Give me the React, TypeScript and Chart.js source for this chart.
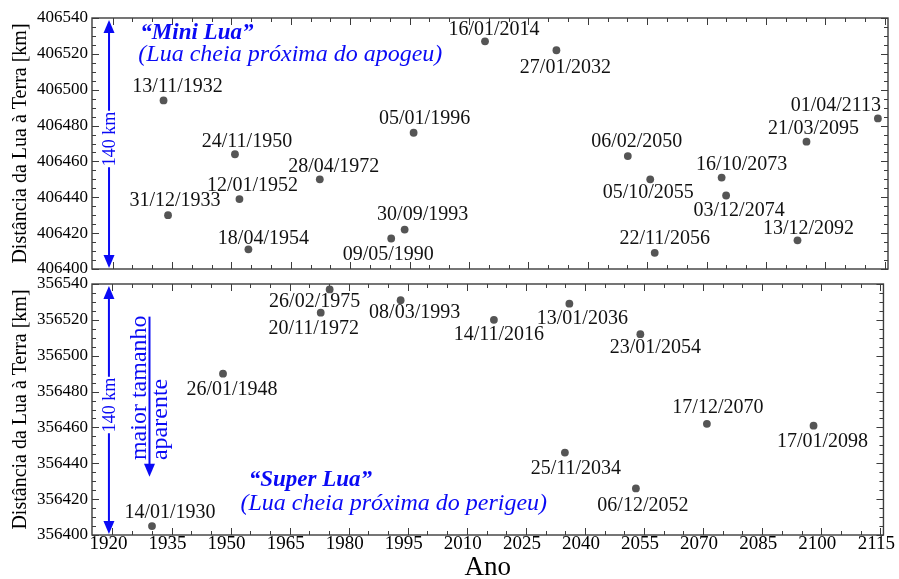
import React, { useEffect, useRef } from 'react';
import { Chart, registerables } from 'chart.js';

Chart.register(...registerables);

// ---------------- data ----------------
const miniDates = [
  '13/11/1932', '31/12/1933', '24/11/1950', '12/01/1952', '18/04/1954', '28/04/1972',
  '09/05/1990', '30/09/1993', '05/01/1996', '16/01/2014', '27/01/2032', '06/02/2050',
  '05/10/2055', '22/11/2056', '16/10/2073', '03/12/2074', '13/12/2092', '21/03/2095', '01/04/2113',
];
const miniDist = [
  406494, 406430, 406464, 406439, 406411, 406450,
  406417, 406422, 406476, 406527, 406522, 406463,
  406450, 406409, 406451, 406441, 406416, 406471, 406484,
];
const superDates = [
  '14/01/1930', '26/01/1948', '20/11/1972', '26/02/1975', '08/03/1993', '14/11/2016',
  '25/11/2034', '13/01/2036', '06/12/2052', '23/01/2054', '17/12/2070', '17/01/2098',
];
const superDist = [
  356405, 356490, 356524, 356537, 356531, 356520,
  356446, 356529, 356426, 356512, 356462, 356461,
];
const xTicks = [1920, 1935, 1950, 1965, 1980, 1995, 2010, 2025, 2040, 2055, 2070, 2085, 2100, 2115];
const miniYTicks = [406400, 406420, 406440, 406460, 406480, 406500, 406520, 406540];
const superYTicks = [356400, 356420, 356440, 356460, 356480, 356500, 356520, 356540];

const yTitle = 'Distância da Lua à Terra [km]';
const xTitle = 'Ano';
const miniTitle = '“Mini Lua”';
const miniSub = '(Lua cheia próxima do apogeu)';
const superTitle = '“Super Lua”';
const superSub = '(Lua cheia próxima do perigeu)';
const rangeText = '140 km';
const sizeText1 = 'maior tamanho';
const sizeText2 = 'aparente';

// ---------------- placement (label offsets in px, from dot centre) ----------------
const miniLabelOffsets = [
  [14, -14], [7, -14], [12, -13], [13, -13], [15, -11], [14, -13],
  [-3, 16], [18, -15], [11, -14], [9, -12], [9, 17], [9, -14],
  [-2, 13], [10, -14], [20, -13], [13, 15], [11, -12], [7, -13], [-42, -13],
];
const superLabelOffsets = [
  [18, -13], [9, 16], [-7, 16], [-15, 12], [14, 13], [5, 15],
  [11, 16], [13, 15], [7, 17], [15, 14], [11, -16], [9, 16],
];

const SERIF = '"Liberation Serif", "Times New Roman", serif';
const BLUE = '#0a0af5';
const X_MIN = 1914.8;
const X_MAX = 2115.8;

function dateToYear(s: string): number {
  const [d, m, y] = s.split('/').map(Number);
  const start = Date.UTC(y, 0, 1);
  const end = Date.UTC(y + 1, 0, 1);
  return y + (Date.UTC(y, m - 1, d) + 43200000 - start) / (end - start);
}

function drawHead(ctx: CanvasRenderingContext2D, x: number, tipY: number, dir: number) {
  // dir = -1 : pointing up ; +1 : pointing down
  ctx.beginPath();
  ctx.moveTo(x, tipY);
  ctx.lineTo(x - 5.5, tipY - dir * 13);
  ctx.lineTo(x + 5.5, tipY - dir * 13);
  ctx.closePath();
  ctx.fill();
}

function drawRangeArrow(ctx: CanvasRenderingContext2D, x: number, top: number, bottom: number) {
  ctx.save();
  ctx.strokeStyle = BLUE;
  ctx.fillStyle = BLUE;
  ctx.lineWidth = 2;
  ctx.font = `18px ${SERIF}`;
  const w = ctx.measureText(rangeText).width;
  const mid = (top + bottom) / 2 - 5;
  ctx.beginPath();
  ctx.moveTo(x, top + 8);
  ctx.lineTo(x, mid - w / 2 - 1);
  ctx.moveTo(x, mid + w / 2 + 1);
  ctx.lineTo(x, bottom - 8);
  ctx.stroke();
  drawHead(ctx, x, top, -1);
  drawHead(ctx, x, bottom, 1);
  ctx.translate(x, mid);
  ctx.rotate(-Math.PI / 2);
  ctx.textAlign = 'center';
  ctx.textBaseline = 'middle';
  ctx.fillText(rangeText, 0, 1);
  ctx.restore();
}

const frameTicks = {
  id: 'frameTicks',
  beforeDatasetsDraw(chart: any) {
    const { ctx, chartArea, scales } = chart;
    const { left, right, top, bottom } = chartArea;
    const xs = scales.x;
    const ys = scales.y;
    ctx.save();
    ctx.strokeStyle = '#3c3c3c';
    ctx.lineWidth = 1.4;
    ctx.strokeRect(left, top, right - left, bottom - top);
    ctx.lineWidth = 1;
    ctx.beginPath();
    const x0 = Math.ceil(xs.min / 5) * 5;
    for (let v = x0; v <= xs.max; v += 5) {
      const px = Math.round(xs.getPixelForValue(v)) + 0.5;
      if (px - left < 2 || right - px < 1) continue;
      const len = xTicks.includes(v) ? 7 : 4;
      ctx.moveTo(px, bottom);
      ctx.lineTo(px, bottom - len);
      ctx.moveTo(px, top);
      ctx.lineTo(px, top + len);
    }
    const y0 = Math.ceil(ys.min / 5) * 5;
    const yMaj: number[] = chart.options.plugins.frameTicks.major;
    for (let v = y0; v <= ys.max; v += 5) {
      const py = Math.round(ys.getPixelForValue(v)) + 0.5;
      const len = yMaj.includes(v) ? 7 : 4;
      ctx.moveTo(left, py);
      ctx.lineTo(left + len, py);
      ctx.moveTo(right, py);
      ctx.lineTo(right - len, py);
    }
    ctx.stroke();
    ctx.restore();
  },
};

const pointLabels = {
  id: 'pointLabels',
  afterDatasetsDraw(chart: any) {
    const { ctx } = chart;
    const opts = chart.options.plugins.pointLabels;
    const meta = chart.getDatasetMeta(0);
    ctx.save();
    ctx.font = `20px ${SERIF}`;
    ctx.fillStyle = '#111';
    ctx.textAlign = 'center';
    ctx.textBaseline = 'middle';
    meta.data.forEach((pt: any, i: number) => {
      const [dx, dy] = opts.offsets[i];
      ctx.fillText(opts.labels[i], pt.x + dx, pt.y + dy);
    });
    ctx.restore();
  },
};

const miniAnnot = {
  id: 'miniAnnot',
  afterDatasetsDraw(chart: any) {
    const { ctx, chartArea, scales } = chart;
    const xs = scales.x;
    const ys = scales.y;
    drawRangeArrow(ctx, xs.getPixelForValue(1919.1), chartArea.top + 2, chartArea.bottom - 1);
    ctx.save();
    ctx.fillStyle = BLUE;
    ctx.textAlign = 'left';
    ctx.textBaseline = 'middle';
    ctx.font = `italic bold 23px ${SERIF}`;
    ctx.fillText(miniTitle, xs.getPixelForValue(1927), ys.getPixelForValue(406531.5));
    ctx.font = `italic 24px ${SERIF}`;
    ctx.fillText(miniSub, xs.getPixelForValue(1926.5), ys.getPixelForValue(406519.5));
    ctx.restore();
  },
};

const superAnnot = {
  id: 'superAnnot',
  afterDatasetsDraw(chart: any) {
    const { ctx, chartArea, scales } = chart;
    const xs = scales.x;
    const ys = scales.y;
    drawRangeArrow(ctx, xs.getPixelForValue(1919.1), chartArea.top + 2, chartArea.bottom - 1);
    ctx.save();
    ctx.fillStyle = BLUE;
    ctx.strokeStyle = BLUE;
    ctx.textAlign = 'left';
    ctx.textBaseline = 'middle';
    ctx.font = `italic bold 23px ${SERIF}`;
    ctx.fillText(superTitle, xs.getPixelForValue(1954.6), ys.getPixelForValue(356430.5));
    ctx.font = `italic 24px ${SERIF}`;
    ctx.fillText(superSub, xs.getPixelForValue(1952.5), ys.getPixelForValue(356417.5));
    // "maior tamanho aparente" arrow
    const ax = xs.getPixelForValue(1929.4);
    const aTop = ys.getPixelForValue(356521.8);
    const aTip = ys.getPixelForValue(356432.5);
    ctx.lineWidth = 2;
    ctx.beginPath();
    ctx.moveTo(ax, aTop);
    ctx.lineTo(ax, aTip - 8);
    ctx.stroke();
    drawHead(ctx, ax, aTip, 1);
    const tStart = ys.getPixelForValue(356441.8);
    ctx.font = `24px ${SERIF}`;
    ctx.textBaseline = 'alphabetic';
    ctx.save();
    ctx.translate(ax - 3.5, tStart);
    ctx.rotate(-Math.PI / 2);
    ctx.fillText(sizeText1, 0, 0);
    ctx.restore();
    ctx.save();
    ctx.translate(ax + 18, tStart);
    ctx.rotate(-Math.PI / 2);
    ctx.fillText(sizeText2, 0, 0);
    ctx.restore();
    ctx.restore();
  },
};

function panelConfig(p: {
  dates: string[];
  dists: number[];
  offsets: number[][];
  yTicks: number[];
  showX: boolean;
  padTop: number;
  padBottom: number;
  annot: any;
}): any {
  const data = p.dates.map((d, i) => ({ x: dateToYear(d), y: p.dists[i] }));
  return {
    type: 'scatter',
    data: {
      datasets: [
        {
          data,
          pointRadius: 3.9,
          pointBackgroundColor: '#555555',
          pointBorderWidth: 0,
          showLine: false,
        },
      ],
    },
    plugins: [frameTicks, pointLabels, p.annot],
    options: {
      animation: false,
      responsive: false,
      maintainAspectRatio: false,
      events: [],
      layout: { padding: { left: 0, right: 11, top: p.padTop, bottom: p.padBottom } },
      plugins: {
        legend: { display: false },
        tooltip: { enabled: false },
        frameTicks: { major: p.yTicks },
        pointLabels: { labels: p.dates, offsets: p.offsets },
      },
      scales: {
        x: {
          type: 'linear',
          min: X_MIN,
          max: X_MAX,
          display: p.showX,
          afterBuildTicks: (s: any) => {
            s.ticks = xTicks.map((v) => ({ value: v }));
          },
          afterFit: (s: any) => {
            s.height = p.showX ? 44 : 0;
          },
          grid: { display: false, drawTicks: false },
          border: { display: false },
          ticks: {
            autoSkip: false,
            maxRotation: 0,
            padding: 0,
            labelOffset: -4,
            color: '#000',
            font: { family: SERIF, size: 19, lineHeight: 1 },
            callback: (v: any) => String(v),
          },
          title: {
            display: p.showX,
            text: xTitle,
            color: '#000',
            padding: 0,
            font: { family: SERIF, size: 27, lineHeight: 0.85 },
          },
        },
        y: {
          type: 'linear',
          min: p.yTicks[0],
          max: p.yTicks[p.yTicks.length - 1],
          afterBuildTicks: (s: any) => {
            s.ticks = p.yTicks.map((v) => ({ value: v }));
          },
          afterFit: (s: any) => {
            s.width = 92;
          },
          grid: { display: false, drawTicks: false },
          border: { display: false },
          ticks: {
            autoSkip: false,
            padding: 4,
            color: '#000',
            font: { family: SERIF, size: 17 },
            callback: (v: any) => String(v),
          },
          title: {
            display: true,
            text: yTitle,
            color: '#000',
            padding: { top: 9, bottom: 0 },
            font: { family: SERIF, size: 20 },
          },
        },
      },
    },
  };
}

export default function App() {
  const topRef = useRef<HTMLCanvasElement>(null);
  const botRef = useRef<HTMLCanvasElement>(null);

  useEffect(() => {
    const top = new Chart(
      topRef.current as HTMLCanvasElement,
      panelConfig({
        dates: miniDates,
        dists: miniDist,
        offsets: miniLabelOffsets,
        yTicks: miniYTicks,
        showX: false,
        padTop: 18,
        padBottom: 21,
        annot: miniAnnot,
      })
    );
    const bottom = new Chart(
      botRef.current as HTMLCanvasElement,
      panelConfig({
        dates: superDates,
        dists: superDist,
        offsets: superLabelOffsets,
        yTicks: superYTicks,
        showX: true,
        padTop: 22,
        padBottom: 0,
        annot: superAnnot,
      })
    );
    return () => {
      top.destroy();
      bottom.destroy();
    };
  }, []);

  return (
    <div
      style={{
        position: 'absolute',
        left: 0,
        top: 0,
        width: 899,
        height: 579,
        background: '#ffffff',
        overflow: 'hidden',
      }}
    >
      <canvas
        ref={topRef}
        width={899}
        height={290}
        style={{ position: 'absolute', left: 0, top: 0 }}
      />
      <canvas
        ref={botRef}
        width={899}
        height={317}
        style={{ position: 'absolute', left: 0, top: 262 }}
      />
    </div>
  );
}
